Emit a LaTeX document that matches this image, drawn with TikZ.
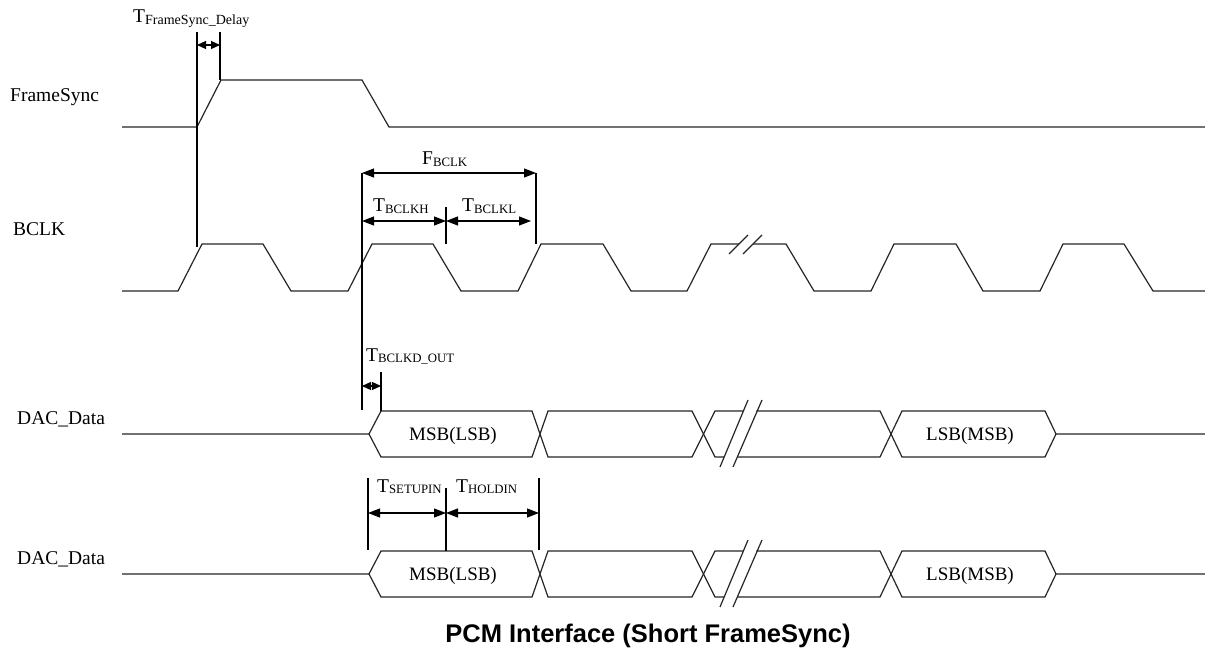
\documentclass[tikz,border=0pt]{standalone}
\usepackage{fontspec}
\setmainfont{Liberation Serif}
\newfontfamily\titlefont{Liberation Sans}
\usetikzlibrary{arrows.meta}
\newcommand\Tlab[2][12.8]{{\fontsize{19.5}{20}\selectfont T}\raisebox{-1.5pt}{\fontsize{#1}{13}\selectfont #2}}
\newcommand\dacrow[1]{%
  \draw[wave] (122,434+#1) -- (369,434+#1) -- (381,411+#1) -- (532,411+#1) -- (548,457+#1) -- (692,457+#1) -- (715,411+#1) -- (743.4,411+#1);
  \draw[wave] (369,434+#1) -- (381,457+#1) -- (532,457+#1) -- (548,411+#1) -- (692,411+#1) -- (715,457+#1) -- (724.2,457+#1);
  \draw[wave] (756.4,411+#1) -- (880,411+#1) -- (902,457+#1) -- (1045,457+#1) -- (1056,434+#1) -- (1205,434+#1);
  \draw[wave] (737.2,457+#1) -- (880,457+#1) -- (902,411+#1) -- (1045,411+#1) -- (1056,434+#1);
  \draw[wave] (720,467+#1) -- (748,400+#1);
  \draw[wave] (733,467+#1) -- (762,400+#1);
}
\begin{document}
\begin{tikzpicture}[x=1pt,y=-1pt,
  wave/.style={line width=1.2pt, color=black!85, line join=miter},
  guide/.style={line width=1.1pt, color=black},
  dim/.style={line width=1.1pt, {Triangle[length=12pt,width=9pt]}-{Triangle[length=12pt,width=9pt]}},
  sdim/.style={line width=1.1pt, {Triangle[length=9pt,width=8pt]}-{Triangle[length=9pt,width=8pt]}},
  lbl/.style={inner sep=0pt, anchor=base west, font=\fontsize{19.5}{20}\selectfont},
  cell/.style={inner sep=0pt, anchor=base, font=\fontsize{19}{20}\selectfont},
  title/.style={inner sep=0pt, anchor=base, font=\titlefont\bfseries\fontsize{25.5}{27}\selectfont}]
\useasboundingbox[fill=white] (0,0) rectangle (1205,652);

% signal names
\node[lbl] (nfs) at (10,102) {FrameSync};
\node[lbl] (nbclk) at (13,236) {BCLK};
\node[lbl] (ndac1) at (17,424) {DAC\_Data};
\node[lbl] (ndac2) at (17,564) {DAC\_Data};

% FrameSync
\draw[wave] (122,127) -- (197,127) -- (221,80) -- (362,80) -- (389,127) -- (1205,127);

% BCLK
\draw[wave] (122,291) -- (178,291) -- (202,244) -- (263,244) -- (291,291) -- (348,291) -- (372,244) -- (433,244) -- (461,291) -- (518,291) -- (541,244) -- (603,244) -- (631,291) -- (687,291) -- (711,244) -- (739,244);
\draw[wave] (753,244) -- (786,244) -- (814,291) -- (871,291) -- (894,244) -- (956,244) -- (983,291) -- (1040,291) -- (1063,244) -- (1124,244) -- (1153,291) -- (1205,291);
\draw[wave] (729,254) -- (748,235);
\draw[wave] (743,254) -- (762,235);

% DAC rows
\dacrow{0}
\dacrow{140}
\node[cell] (m1) at (453,440) {MSB(LSB)};
\node[cell] (l1) at (970,440) {LSB(MSB)};
\node[cell] (m2) at (453,580) {MSB(LSB)};
\node[cell] (l2) at (970,580) {LSB(MSB)};

% FrameSync delay
\coordinate (g1t) at (197,32); \coordinate (g1b) at (197,247);
\coordinate (g2t) at (220,32); \coordinate (g2b) at (220,80);
\coordinate (d1a) at (197,45); \coordinate (d1b) at (220,45);
\draw[guide] (g1t) -- (g1b);
\draw[guide] (g2t) -- (g2b);
\draw[sdim] (d1a) -- (d1b);
\node[lbl, font=\normalsize] (tfs) at (133,23) {\Tlab[14]{FrameSync\_Delay}};

% BCLK period
\coordinate (g3t) at (362,173); \coordinate (g3b) at (362,410);
\coordinate (g4t) at (536,173); \coordinate (g4b) at (536,244);
\coordinate (g5t) at (446,207); \coordinate (g5b) at (446,244);
\draw[guide] (g3t) -- (g3b);
\draw[guide] (g4t) -- (g4b);
\draw[guide] (g5t) -- (g5b);
\coordinate (h1) at (362,221); \coordinate (h2) at (446,221); \coordinate (h3) at (531,221);
\draw[dim] (g3t) -- (g4t);
\draw[dim] (h1) -- (h2);
\draw[dim] (h2) -- (h3);
\node[lbl, font=\normalsize] (tf) at (422,165) {{\fontsize{19.5}{20}\selectfont F}\raisebox{-1.5pt}{\fontsize{12.8}{13}\selectfont BCLK}};
\node[lbl, font=\normalsize] (th) at (373,212) {\Tlab{BCLKH}};
\node[lbl, font=\normalsize] (tl) at (462,212) {\Tlab{BCLKL}};

% BCLKD_OUT
\coordinate (g6t) at (381,372); \coordinate (g6b) at (381,411);
\coordinate (o1) at (362,386); \coordinate (o2) at (381,386);
\draw[guide] (g6t) -- (g6b);
\draw[sdim] (o1) -- (o2);
\node[lbl, font=\normalsize] (to) at (366,361) {\Tlab{BCLKD\_OUT}};

% setup / hold
\coordinate (g7t) at (368,478); \coordinate (g7b) at (368,550);
\coordinate (g8t) at (446,488); \coordinate (g8b) at (446,551);
\coordinate (g9t) at (539,478); \coordinate (g9b) at (539,550);
\coordinate (s1) at (368,513); \coordinate (s2) at (446,513); \coordinate (s3) at (539,513);
\draw[guide] (g7t) -- (g7b);
\draw[guide] (g8t) -- (g8b);
\draw[guide] (g9t) -- (g9b);
\draw[dim] (s1) -- (s2);
\draw[dim] (s2) -- (s3);
\node[lbl, font=\normalsize] (ts) at (377,492) {\Tlab{SETUPIN}};
\node[lbl, font=\normalsize] (tho) at (456,492) {\Tlab{HOLDIN}};

% title
\node[title] (ttl) at (648,642) {PCM Interface (Short FrameSync)};
\end{tikzpicture}
\end{document}
